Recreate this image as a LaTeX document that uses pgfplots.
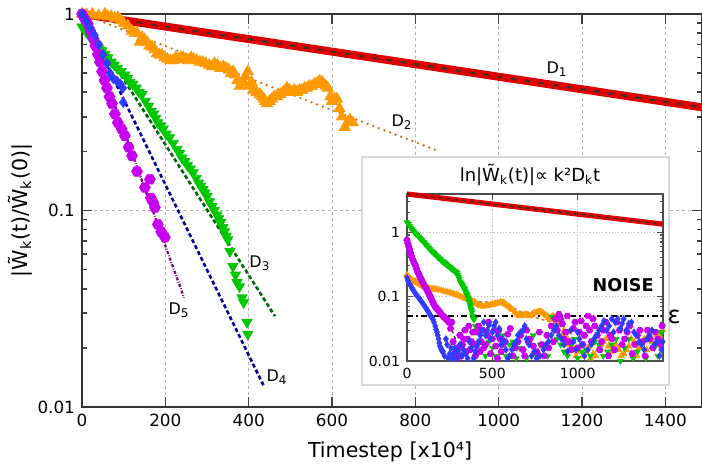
\documentclass[border=0pt]{standalone}
\usepackage{fontspec}
\setmainfont{DejaVu Sans}
\usepackage{pgfplots}
\pgfplotsset{compat=1.18}

\definecolor{cred}{RGB}{220,0,0}
\definecolor{corange}{RGB}{255,153,0}
\definecolor{cofit}{RGB}{205,110,30}
\definecolor{cgreen}{RGB}{0,200,0}
\definecolor{cgfit}{RGB}{0,100,0}
\definecolor{cblue}{RGB}{50,60,255}
\definecolor{cbfit}{RGB}{0,0,150}
\definecolor{cpurple}{RGB}{200,0,240}
\definecolor{cpfit}{RGB}{110,0,110}

\pgfdeclareplotmark{hexagon*}{%
  \pgfpathmoveto{\pgfpointpolar{0}{\pgfplotmarksize}}%
  \pgfpathlineto{\pgfpointpolar{60}{\pgfplotmarksize}}%
  \pgfpathlineto{\pgfpointpolar{120}{\pgfplotmarksize}}%
  \pgfpathlineto{\pgfpointpolar{180}{\pgfplotmarksize}}%
  \pgfpathlineto{\pgfpointpolar{240}{\pgfplotmarksize}}%
  \pgfpathlineto{\pgfpointpolar{300}{\pgfplotmarksize}}%
  \pgfpathclose\pgfusepathqfillstroke}

\begin{document}
\begin{tikzpicture}
\useasboundingbox (-41pt,-30.5pt) rectangle (310pt,203.5pt);

% ---------------- main axis ----------------
\begin{axis}[
  at={(0,0)}, anchor=south west,
  scale only axis, width=310pt, height=196.5pt,
  xmin=0, xmax=1488, ymode=log, ymin=0.01, ymax=1,
  xtick={0,200,400,600,800,1000,1200,1400},
  xticklabels={0,200,400,600,800,1000,1200,1400},
  ytick={0.01,0.1,1}, yticklabels={0.01,0.1,1},
  minor ytick={0.02,0.03,0.04,0.05,0.06,0.07,0.08,0.09,0.2,0.3,0.4,0.5,0.6,0.7,0.8,0.9},
  grid=major,
  major grid style={gray!60, line width=0.4pt, dash pattern=on 1.5pt off 1.5pt},
  tick align=inside, major tick length=5pt, minor tick length=2.5pt,
  tick style={black!75, line width=0.8pt},
  axis line style={black!80, line width=1pt},
  ticklabel style={font=\fontsize{8.4}{10}\selectfont},
  xlabel={Timestep [x10⁴]},
  ylabel={|W̃\textsubscript{k}(t)/W̃\textsubscript{k}(0)|},
  label style={font=\fontsize{10.3}{12}\selectfont},
  xlabel style={at={(axis description cs:0.497,-0.115)}, anchor=center},
  ylabel style={at={(axis description cs:-0.1,0.5)}, anchor=center},
  clip=false,
]
% D1
\addplot[cred, line width=4pt] coordinates {(0,1) (1488,0.335)};
\addplot[black!80, line width=1pt, dash pattern=on 2.5pt off 4.5pt] coordinates {(0,1) (1488,0.335)};

% D2 data
\addplot[only marks, mark=triangle*, mark size=3.2pt, color=corange] coordinates {
(0,1.0) (12,0.99) (25,1.0) (40,0.98) (55,1.0) (62,0.97) (70,0.97) (78,0.95) (86,0.96)
(93,0.93) (100,0.9) (110,0.87) (120,0.82) (126,0.8) (132,0.80) (139,0.72) (144,0.76)
(150,0.74) (156,0.72) (162,0.69) (168,0.68) (174,0.66) (180,0.63) (186,0.62)
(192,0.62) (198,0.60) (205,0.59) (212,0.58) (219,0.58) (225,0.6) (231,0.59)
(237,0.6) (243,0.60) (249,0.59) (255,0.58) (262,0.6) (268,0.59) (275,0.58)
(283,0.57) (290,0.57) (297,0.56) (305,0.55) (312,0.54) (318,0.56) (325,0.55)
(332,0.53) (339,0.54) (346,0.53) (352,0.52) (358,0.5) (363,0.51) (367,0.49)
(373,0.46) (379,0.43) (384,0.45) (387,0.45) (392,0.48) (398,0.51) (403,0.43)
(407,0.45) (411,0.41) (419,0.40) (427,0.39) (432,0.38) (436,0.37) (440,0.36)
(444,0.35) (450,0.36) (456,0.37) (462,0.38) (468,0.38) (476,0.39) (483,0.40)
(488,0.41) (492,0.42) (498,0.41) (504,0.40) (510,0.41) (516,0.40) (522,0.41)
(528,0.41) (534,0.42) (540,0.42) (546,0.43) (552,0.43) (558,0.44) (563,0.44)
(567,0.45) (571,0.455) (576,0.45) (580,0.44) (585,0.43) (590,0.42) (596,0.38)
(600,0.36) (606,0.37) (612,0.37) (618,0.33) (624,0.30) (631,0.265) (637,0.28)
(643,0.29) (650,0.28)
};
% D3 data
\addplot[only marks, mark=triangle*, mark size=2.9pt, mark options={rotate=180}, color=cgreen] coordinates {
(0,0.86) (5,0.84) (10,0.81) (15,0.79) (20,0.76) (25,0.74) (30,0.71) (35,0.69)
(40,0.67) (47,0.65) (55,0.625) (62,0.6) (70,0.57) (77,0.55) (85,0.53) (94,0.51)
(103,0.49) (109,0.47) (115,0.45) (122,0.44) (130,0.42) (137,0.4) (144,0.39)
(152,0.36) (160,0.34) (166,0.32) (172,0.31) (177,0.295) (182,0.28) (188,0.27)
(195,0.26) (202,0.245) (210,0.235) (219,0.22) (228,0.205) (234,0.195) (240,0.185)
(247,0.178) (253,0.17) (260,0.163) (267,0.156) (274,0.146) (280,0.138) (285,0.133)
(290,0.128) (295,0.123) (300,0.118) (306,0.111) (312,0.105) (318,0.1) (324,0.095)
(328,0.091) (333,0.087) (338,0.082) (342,0.078) (346,0.074) (350,0.071) (355,0.062)
(362,0.052) (368,0.047) (372,0.043) (378,0.041) (384,0.036) (388,0.034) (396,0.027)
(398,0.0235)
};
% D5 data
\addplot[only marks, mark=hexagon*, mark size=2.7pt, color=cpurple] coordinates {
(0,1.0) (7,0.94) (14,0.89) (20,0.82) (26,0.76) (32,0.69) (38,0.625) (43,0.57)
(48,0.51) (54,0.46) (60,0.42) (66,0.38) (72,0.35) (79,0.31) (86,0.28) (95,0.26)
(103,0.24) (112,0.21) (120,0.19) (132,0.158) (151,0.131) (163,0.144) (165,0.116)
(171,0.11) (175,0.1035) (182,0.085) (190,0.078) (199,0.073)
};
% D4 data
\addplot[only marks, mark=diamond*, mark size=2.5pt, color=cblue] coordinates {
(0,1.0) (10,0.92) (20,0.85) (30,0.78) (40,0.70) (50,0.62) (60,0.56) (67,0.50)
(75,0.47) (84,0.455) (92,0.44) (98,0.42) (99,0.355)
};

% fits
\addplot[cofit, line width=1.3pt, line cap=round, dash pattern=on 0pt off 3pt] coordinates {(0,1) (852,0.202)};
\addplot[cgfit, line width=1.3pt, dash pattern=on 2pt off 1.3pt] coordinates {(0,1) (463,0.029)};
\addplot[cbfit, line width=1.3pt, dash pattern=on 2pt off 1.3pt] coordinates {(0,1) (437,0.0127)};
\addplot[cpfit, line width=1.1pt, dash pattern=on 1.5pt off 0.8pt on 0.4pt off 0.8pt] coordinates {(0,1) (245,0.036)};

\node[font=\fontsize{8}{9}\selectfont] at (axis cs:1140,0.524) {D\textsubscript{1}};
\node[font=\fontsize{8}{9}\selectfont] at (axis cs:768,0.281) {D\textsubscript{2}};
\node[font=\fontsize{8}{9}\selectfont] at (axis cs:427,0.054) {D\textsubscript{3}};
\node[font=\fontsize{8}{9}\selectfont] at (axis cs:468,0.0142) {D\textsubscript{4}};
\node[font=\fontsize{8}{9}\selectfont] at (axis cs:233,0.031) {D\textsubscript{5}};
\end{axis}

% inset frame
\draw[gray!30, line width=0.6pt, fill=white] (140pt,11pt) rectangle (293.5pt,125pt);

% ---------------- inset axis ----------------
\begin{axis}[
  at={(162.5pt,23pt)}, anchor=south west,
  scale only axis, width=128pt, height=83.5pt,
  xmin=0, xmax=1500, ymode=log, ymin=0.01, ymax=3.9,
  xtick={0,500,1000}, xticklabels={0,500,1000},
  ytick={0.01,0.1,1}, yticklabels={0.01,0.1,1},
  minor ytick={0.02,0.03,0.04,0.05,0.06,0.07,0.08,0.09,0.2,0.3,0.4,0.5,0.6,0.7,0.8,0.9,2,3},
  grid=major,
  major grid style={gray!50, line width=0.4pt, dash pattern=on 0.6pt off 1pt},
  tick align=inside, major tick length=3pt, minor tick length=1.7pt,
  tick style={black!70, line width=0.6pt},
  axis line style={black!70, line width=0.8pt},
  ticklabel style={font=\fontsize{7}{8}\selectfont},
  clip=false,
]
\addplot[cred, line width=2.6pt] coordinates {(0,3.9) (1500,1.33)};
\addplot[black!80, line width=0.7pt, dash pattern=on 1.5pt off 2.5pt] coordinates {(0,3.9) (1500,1.33)};

% orange
\addplot[only marks, mark=triangle*, mark size=1.7pt, color=corange] coordinates {
(0,0.218) (10,0.2) (20,0.19) (30,0.18) (40,0.175) (50,0.17) (59,0.164) (70,0.158)
(80,0.152) (90,0.147) (100,0.143) (108,0.14) (117,0.138) (128,0.135) (140,0.132)
(150,0.131) (160,0.13) (168,0.129) (176,0.128) (188,0.126) (200,0.124) (212,0.122)
(225,0.12) (238,0.117) (252,0.115) (263,0.112) (275,0.11) (288,0.107) (300,0.104)
(314,0.1) (328,0.097) (340,0.094) (350,0.092) (360,0.09) (370,0.088) (380,0.086)
(387,0.084) (395,0.082) (400,0.08) (410,0.077) (420,0.074) (432,0.072) (445,0.07)
(458,0.071) (470,0.072) (480,0.073) (490,0.074) (497,0.075) (504,0.075) (512,0.077)
(520,0.078) (530,0.079) (540,0.08) (550,0.082) (562,0.081) (571,0.078) (580,0.075)
(592,0.071) (603,0.068) (612,0.065) (620,0.062) (632,0.057) (644,0.053) (655,0.051)
(665,0.05) (675,0.051) (685,0.052) (694,0.053) (703,0.053) (712,0.051) (720,0.05)
(730,0.052) (740,0.055) (750,0.056) (762,0.057) (771,0.058) (780,0.059) (790,0.057)
(800,0.055) (810,0.052) (820,0.05) (830,0.047) (838,0.044) (846,0.048) (855,0.05)
(863,0.048) (870,0.046) (878,0.043) (885,0.04) (893,0.038) (900,0.036)
(910,0.025) (920,0.03) (930,0.018) (940,0.022) (950,0.028) (960,0.018) (970,0.02)
(980,0.015) (990,0.012) (1000,0.014) (1015,0.017) (1030,0.012) (1045,0.014)
(1060,0.016) (1075,0.011) (1090,0.013) (1105,0.012) (1120,0.015) (1135,0.018)
(1150,0.02) (1165,0.022) (1180,0.017) (1195,0.014) (1210,0.022) (1225,0.018)
(1240,0.015) (1255,0.012) (1270,0.013) (1285,0.015) (1300,0.017) (1315,0.022)
(1330,0.02) (1345,0.012) (1360,0.016) (1375,0.018) (1390,0.022) (1405,0.015)
(1420,0.026) (1435,0.02) (1450,0.018) (1465,0.025) (1480,0.024) (1490,0.02) (1498,0.03)
};
\addplot[cofit, line width=0.7pt, dash pattern=on 1.5pt off 1.5pt] coordinates {
(0,0.218) (117,0.138) (252,0.115) (387,0.084) (562,0.08) (703,0.052) (900,0.036)};

% green
\addplot[only marks, mark=triangle*, mark size=1.6pt, mark options={rotate=180}, color=cgreen] coordinates {
(0,1.42) (8,1.33) (15,1.25) (22,1.17) (30,1.1) (38,1.04) (45,0.98) (52,0.94) (60,0.9)
(68,0.85) (76,0.81) (83,0.77) (90,0.74) (98,0.7) (105,0.66) (112,0.63) (120,0.6)
(128,0.57) (135,0.54) (143,0.51) (152,0.49) (158,0.47) (165,0.45) (172,0.43)
(180,0.41) (188,0.39) (195,0.38) (202,0.36) (210,0.35) (216,0.34) (222,0.33)
(228,0.32) (234,0.31) (241,0.3) (248,0.29) (255,0.28) (262,0.27) (270,0.26)
(278,0.25) (286,0.243) (293,0.235) (298,0.215) (302,0.2) (307,0.185) (312,0.17)
(316,0.162) (320,0.155) (324,0.149) (328,0.143) (332,0.137) (337,0.13) (341,0.122)
(345,0.115) (348,0.11) (352,0.105) (357,0.097) (360,0.091) (363,0.085) (366,0.08)
(369,0.075) (372,0.07) (375,0.065) (378,0.061) (381,0.057) (385,0.05) (388,0.045)
(395,0.045) (400,0.035) (410,0.03) (425,0.02) (440,0.015) (460,0.012) (480,0.02)
(500,0.016) (520,0.012) (540,0.03) (560,0.025) (580,0.012) (600,0.018) (620,0.02)
(640,0.011) (660,0.016) (680,0.014) (700,0.011) (720,0.02) (740,0.025) (760,0.012)
(780,0.018) (800,0.016) (825,0.012) (850,0.048) (865,0.03) (880,0.022) (900,0.018)
(920,0.014) (940,0.012) (960,0.018) (980,0.022) (1000,0.011) (1025,0.014)
(1050,0.015) (1075,0.012) (1100,0.02) (1125,0.018) (1150,0.012) (1175,0.014)
(1200,0.018) (1225,0.022) (1250,0.01) (1275,0.016) (1300,0.022) (1325,0.011)
(1350,0.014) (1375,0.018) (1400,0.011) (1425,0.022) (1450,0.016) (1470,0.012)
(1490,0.028)
};
\addplot[black!80, line width=0.7pt, dash pattern=on 1.5pt off 1.5pt] coordinates {
(0,1.42) (76,0.81) (152,0.49) (234,0.31) (293,0.235) (345,0.115) (388,0.045) (430,0.03)};

% purple
\addplot[only marks, mark=hexagon*, mark size=1.6pt, color=cpurple] coordinates {
(0,0.75) (5,0.67) (10,0.6) (15,0.54) (20,0.48) (27,0.42) (35,0.37) (42,0.33)
(50,0.3) (56,0.27) (63,0.24) (70,0.22) (76,0.2) (83,0.185) (90,0.17) (97,0.157)
(103,0.145) (110,0.136) (117,0.128) (123,0.117) (130,0.108) (135,0.101) (140,0.095)
(146,0.088) (152,0.081) (158,0.075) (165,0.07) (172,0.066) (180,0.063) (186,0.06)
(193,0.057) (201,0.053) (210,0.05) (216,0.048) (222,0.047) (228,0.045) (234,0.044)
(240,0.042) (245,0.04)
(255,0.032) (262,0.04) (270,0.02) (278,0.012) (285,0.014) (295,0.011) (300,0.016)
(310,0.025) (318,0.012) (325,0.018) (332,0.022) (340,0.03) (348,0.014) (355,0.022)
(362,0.035) (370,0.015) (378,0.02) (385,0.028) (392,0.018) (400,0.012) (410,0.028)
(420,0.035) (428,0.014) (435,0.02) (443,0.03) (450,0.016) (460,0.018) (470,0.025)
(478,0.04) (490,0.013) (500,0.022) (510,0.03) (520,0.017) (530,0.011) (538,0.03)
(545,0.022) (552,0.014) (560,0.018) (575,0.02) (590,0.026) (605,0.032) (620,0.012)
(635,0.016) (650,0.02) (665,0.025) (680,0.015) (690,0.012) (700,0.03) (710,0.02)
(720,0.022) (740,0.017) (760,0.014) (775,0.028) (790,0.018) (805,0.012) (820,0.025)
(830,0.016) (845,0.035) (858,0.02) (870,0.045) (880,0.03) (890,0.053) (900,0.045)
(910,0.038) (920,0.022) (930,0.028) (940,0.05) (950,0.02) (962,0.015) (975,0.032)
(985,0.04) (1000,0.016) (1010,0.028) (1020,0.042) (1030,0.018) (1040,0.025)
(1050,0.035) (1060,0.05) (1070,0.03) (1080,0.02) (1090,0.045) (1100,0.035)
(1115,0.025) (1130,0.015) (1140,0.02) (1150,0.03) (1165,0.04) (1180,0.012)
(1190,0.025) (1200,0.022) (1215,0.015) (1230,0.04) (1245,0.03) (1260,0.018)
(1275,0.022) (1290,0.028) (1305,0.035) (1320,0.013) (1335,0.018) (1350,0.025)
(1365,0.03) (1380,0.02) (1395,0.012) (1410,0.03) (1425,0.022) (1440,0.016)
(1455,0.028) (1470,0.022) (1485,0.018) (1495,0.035)
};
\addplot[black!80, line width=0.7pt, dash pattern=on 1.5pt off 1.5pt] coordinates {
(0,0.75) (35,0.37) (76,0.2) (117,0.128) (152,0.081) (193,0.057) (245,0.04) (290,0.02)};

% blue
\addplot[only marks, mark=diamond*, mark size=1.6pt, color=cblue] coordinates {
(0,0.196) (6,0.175) (12,0.16) (18,0.152) (23,0.145) (29,0.136) (35,0.128) (42,0.12)
(50,0.11) (57,0.105) (63,0.1) (70,0.095) (76,0.09) (83,0.085) (90,0.08) (98,0.075)
(105,0.07) (111,0.066) (117,0.063) (124,0.059) (130,0.055) (135,0.052) (140,0.05)
(146,0.047) (152,0.044) (158,0.04) (165,0.035) (170,0.031) (176,0.028) (180,0.025)
(185,0.022) (189,0.019) (193,0.017) (198,0.016) (202,0.015) (207,0.014) (211,0.014)
(220,0.012) (228,0.022) (235,0.018) (242,0.011) (250,0.013) (258,0.016) (265,0.011)
(272,0.013) (280,0.016) (290,0.011) (300,0.014) (310,0.018) (320,0.012) (330,0.015)
(345,0.013) (355,0.011) (365,0.02) (375,0.016) (390,0.011) (400,0.014) (410,0.017)
(420,0.02) (430,0.025) (440,0.03) (450,0.04) (460,0.025) (470,0.03) (480,0.036)
(490,0.022) (500,0.028) (510,0.035) (520,0.04) (530,0.025) (540,0.032) (550,0.018)
(560,0.022) (570,0.02) (580,0.015) (590,0.011) (600,0.012) (615,0.015) (625,0.018)
(640,0.02) (650,0.025) (665,0.028) (680,0.03) (690,0.035) (700,0.022) (715,0.018)
(730,0.012) (745,0.014) (760,0.011) (780,0.012) (800,0.015) (815,0.018) (830,0.02)
(845,0.025) (860,0.03) (875,0.035) (890,0.025) (905,0.022) (920,0.018) (940,0.014)
(960,0.03) (975,0.02) (990,0.015) (1000,0.028) (1010,0.022) (1025,0.018)
(1040,0.012) (1060,0.015) (1080,0.018) (1095,0.022) (1110,0.025) (1125,0.03)
(1140,0.035) (1155,0.042) (1170,0.03) (1185,0.035) (1200,0.045) (1210,0.028)
(1220,0.04) (1235,0.045) (1250,0.032) (1260,0.038) (1270,0.045) (1285,0.03)
(1300,0.038) (1315,0.04) (1330,0.028) (1345,0.025) (1360,0.02) (1375,0.018)
(1390,0.015) (1405,0.022) (1420,0.025) (1435,0.03) (1450,0.018) (1465,0.02)
(1480,0.012) (1490,0.015) (1498,0.02)
};

% epsilon threshold
\addplot[black, line width=0.9pt, dash pattern=on 3pt off 1.5pt on 0.8pt off 1.5pt] coordinates {(0,0.05) (1500,0.05)};
\node[font=\fontsize{8.8}{10}\selectfont\bfseries] at (axis cs:1266,0.153) {NOISE};
\end{axis}

\node[font=\fontsize{9}{11}\selectfont] at (224pt,116pt) {ln|W̃\textsubscript{k}(t)|∝ k²D\textsubscript{k}t};
\node[font=\fontsize{12}{14}\selectfont] at (296pt,45pt) {ε};
\end{tikzpicture}
\end{document}
